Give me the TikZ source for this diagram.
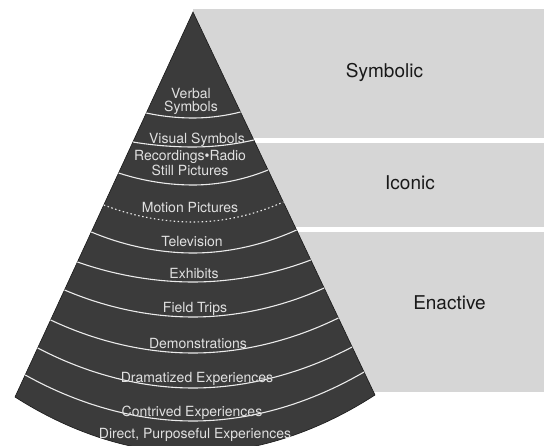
\documentclass[tikz,border=0pt]{standalone}
\usepackage{fontspec}
\setmainfont{TeX Gyre Heros}
\begin{document}
\begin{tikzpicture}[x=1pt,y=1pt,
  band/.style={fill=black!16},
  conefill/.style={fill=black!77, draw=black!90, line width=0.6pt},
  divider/.style={draw=white!92!black, line width=1.1pt},
  dotdivider/.style={draw=white!92!black, line width=1.1pt, dash pattern=on 1.5pt off 2.5pt},
  conelabel/.style={text=white!88!black, font=\fontsize{14}{13.2}\selectfont, inner sep=0pt},
  modelabel/.style={text=black!90, font=\fontsize{19}{22}\selectfont, inner sep=0pt}]
\useasboundingbox (0,0) rectangle (544,446);
\coordinate (apex) at (193,434);
\coordinate (cl) at (15,49);
\coordinate (cr) at (375,51);
\coordinate (cb) at (193,-7);
\coordinate (edgeext) at (411.4,-25.6);
% grey bands on the right
\begin{scope}
  \clip (193,446) -- (apex) -- (edgeext) -- (544,-30) -- (544,446) -- cycle;
  \fill[band] (180,437) rectangle (544,308);
  \fill[band] (180,303) rectangle (544,219);
  \fill[band] (180,214) rectangle (544,54);
\end{scope}
% cone
\path[conefill] (apex) -- (cl) parabola bend (cb) (cr) -- cycle;
% dividers
\coordinate (l1L) at (146.3,333); \coordinate (l1M) at (193,328); \coordinate (l1R) at (240.5,334);
\coordinate (l2L) at (132.9,304); \coordinate (l2M) at (193,299); \coordinate (l2R) at (253.8,306);
\coordinate (l3L) at (118.6,273); \coordinate (l3M) at (193,261); \coordinate (l3R) at (268.1,276);
\coordinate (l4L) at (103.8,241); \coordinate (l4M) at (193,224); \coordinate (l4R) at (283.3,244);
\coordinate (l5L) at (91.3,214);  \coordinate (l5M) at (193,193); \coordinate (l5R) at (296.6,216);
\coordinate (l6L) at (77.4,184);  \coordinate (l6M) at (193,164); \coordinate (l6R) at (310.8,186);
\coordinate (l7L) at (64.5,156);  \coordinate (l7M) at (193,129); \coordinate (l7R) at (324.2,158);
\coordinate (l8L) at (50.6,126);  \coordinate (l8M) at (193,93);  \coordinate (l8R) at (338.4,128);
\coordinate (l9L) at (37.7,98);   \coordinate (l9M) at (193,58);  \coordinate (l9R) at (352.2,99);
\coordinate (l10L) at (25.2,71);  \coordinate (l10M) at (193,25); \coordinate (l10R) at (364.1,74);
\draw[divider] (l1L) parabola bend (l1M) (l1R);
\draw[divider] (l2L) parabola bend (l2M) (l2R);
\draw[divider] (l3L) parabola bend (l3M) (l3R);
\draw[dotdivider] (l4L) parabola bend (l4M) (l4R);
\draw[divider] (l5L) parabola bend (l5M) (l5R);
\draw[divider] (l6L) parabola bend (l6M) (l6R);
\draw[divider] (l7L) parabola bend (l7M) (l7R);
\draw[divider] (l8L) parabola bend (l8M) (l8R);
\draw[divider] (l9L) parabola bend (l9M) (l9R);
\draw[divider] (l10L) parabola bend (l10M) (l10R);
% cone labels
\node[conelabel, align=center] (verbal) at (191,344.3) {Verbal\\Symbols};
\node[conelabel, anchor=base] (visual) at (197,302) {Visual Symbols};
\node[conelabel, align=center] (record) at (190,283) {Recordings\textbullet Radio\\Still Pictures};
\node[conelabel, anchor=base] (motion) at (190,233) {Motion Pictures};
\node[conelabel, anchor=base] (tv) at (192,199) {Television};
\node[conelabel, anchor=base] (exhibits) at (194,167) {Exhibits};
\node[conelabel, anchor=base] (field) at (195,133.3) {Field Trips};
\node[conelabel, anchor=base] (demo) at (198,97.7) {Demonstrations};
\node[conelabel, anchor=base] (drama) at (197,63) {Dramatized Experiences};
\node[conelabel, anchor=base] (contrived) at (192,29.3) {Contrived Experiences};
\node[conelabel, anchor=base] (direct) at (195,7) {Direct, Purposeful Experiences};
% mode labels
\node[modelabel, anchor=base] (symbolic) at (384.5,368) {Symbolic};
\node[modelabel, anchor=base] (iconic) at (410,256) {Iconic};
\node[modelabel, anchor=base] (enactive) at (449.5,136) {Enactive};
\end{tikzpicture}
\end{document}
